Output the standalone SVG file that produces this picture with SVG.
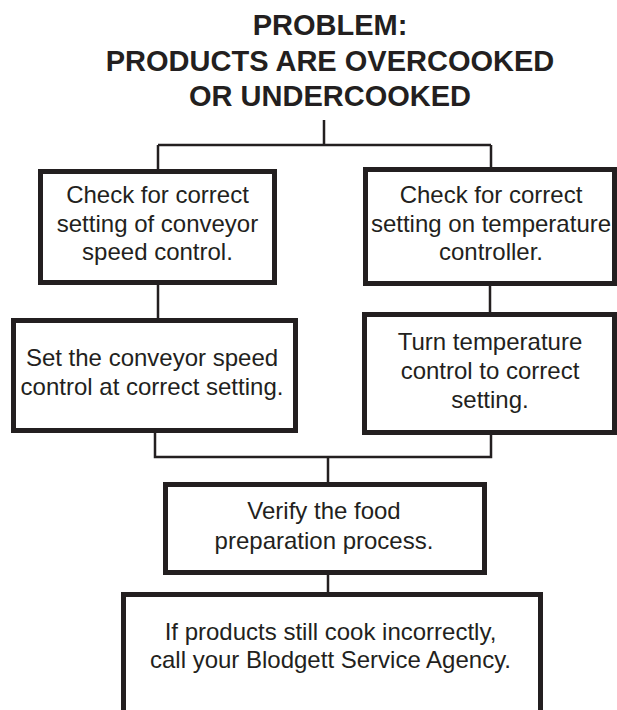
<svg xmlns="http://www.w3.org/2000/svg" width="617" height="710" viewBox="0 0 617 710">
<style>
.box{fill:#fff;stroke:#231f20;stroke-width:5}
.ln{fill:none;stroke:#231f20;stroke-width:2.5}
.t{font-family:"Liberation Sans",Arial,sans-serif;font-size:24px;fill:#231f20;text-anchor:middle}
.title{font-family:"Liberation Sans",Arial,sans-serif;font-size:29px;font-weight:bold;fill:#231f20;text-anchor:middle}
</style>
<rect width="617" height="710" fill="#fff"/>
<g id="title">
<text class="title" x="330" y="35">PROBLEM:</text>
<text class="title" x="330" y="71">PRODUCTS ARE OVERCOOKED</text>
<text class="title" x="330" y="106">OR UNDERCOOKED</text>
</g>
<g id="connectors">
<path class="ln" d="M324 120V145M158 145H491M158 145V170M491 145V168"/>
<path class="ln" d="M158 284V319M490 285V313"/>
<path class="ln" d="M155 432V457H491V434M328 457V483M328 574V593"/>
</g>
<g id="n1">
<rect class="box" x="40.5" y="171.5" width="234" height="111"/>
<text class="t" x="157.5" y="203">Check for correct</text>
<text class="t" x="157.5" y="232">setting of conveyor</text>
<text class="t" x="157.5" y="260">speed control.</text>
</g>
<g id="n2">
<rect class="box" x="365.5" y="169.5" width="249" height="114"/>
<text class="t" x="491" y="203">Check for correct</text>
<text class="t" x="491" y="232">setting on temperature</text>
<text class="t" x="491" y="260">controller.</text>
</g>
<g id="n3">
<rect class="box" x="13.5" y="320.5" width="282" height="110"/>
<text class="t" x="152" y="366">Set the conveyor speed</text>
<text class="t" x="152" y="395">control at correct setting.</text>
</g>
<g id="n4">
<rect class="box" x="364.5" y="314.5" width="250" height="118"/>
<text class="t" x="490" y="350">Turn temperature</text>
<text class="t" x="490" y="379">control to correct</text>
<text class="t" x="490" y="408">setting.</text>
</g>
<g id="n5">
<rect class="box" x="165.5" y="484.5" width="319" height="88"/>
<text class="t" x="324" y="519">Verify the food</text>
<text class="t" x="324" y="549">preparation process.</text>
</g>
<g id="n6">
<rect class="box" x="123.5" y="594.5" width="417" height="130"/>
<text class="t" x="330.5" y="640">If products still cook incorrectly,</text>
<text class="t" x="330.5" y="668">call your Blodgett Service Agency.</text>
</g>
</svg>
